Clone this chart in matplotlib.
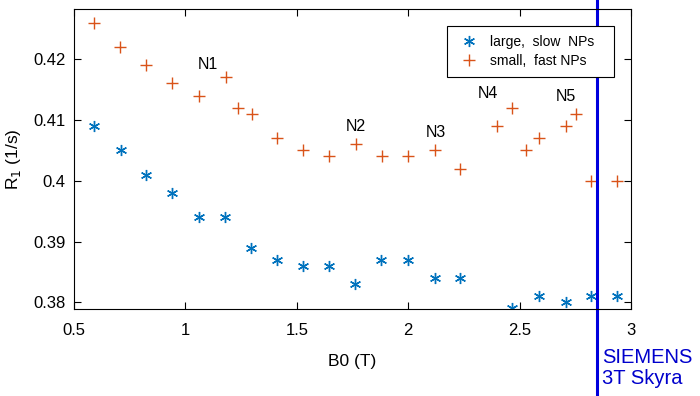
import matplotlib
matplotlib.use("Agg")
import matplotlib.pyplot as plt

plt.rcParams['font.family'] = ['Liberation Sans', 'DejaVu Sans']

# large, slow NPs (blue stars)
b0_large = [0.59, 0.71, 0.825, 0.94, 1.06, 1.18, 1.296, 1.41, 1.53, 1.646,
            1.76, 1.88, 2.0, 2.12, 2.234, 2.467, 2.587, 2.707, 2.82, 2.937]
r1_large = [0.409, 0.405, 0.401, 0.398, 0.394, 0.394, 0.389, 0.387, 0.386, 0.386,
            0.383, 0.387, 0.387, 0.384, 0.384, 0.379, 0.381, 0.380, 0.381, 0.381]

# small, fast NPs (red plus)
b0_small = [0.59, 0.708, 0.823, 0.941, 1.061, 1.181, 1.236, 1.298, 1.413, 1.529,
            1.646, 1.764, 1.882, 2.0, 2.119, 2.234, 2.399, 2.467, 2.529, 2.587,
            2.707, 2.752, 2.819, 2.937]
r1_small = [0.426, 0.422, 0.419, 0.416, 0.414, 0.417, 0.412, 0.411, 0.407, 0.405,
            0.404, 0.406, 0.404, 0.404, 0.405, 0.402, 0.409, 0.412, 0.405, 0.407,
            0.409, 0.411, 0.400, 0.400]

# annotations
note_text = ["N1", "N2", "N3", "N4", "N5"]
note_x = [1.10, 1.766, 2.125, 2.358, 2.708]
note_y = [0.4192, 0.4089, 0.408, 0.4144, 0.4139]

scanner_b0 = 2.847

fig = plt.figure(figsize=(7, 3.96), dpi=100)
ax = fig.add_axes([0.1057, 0.2197, 0.7957, 0.7568])

ax.plot(b0_large, r1_large, linestyle='none', marker=(6, 2, 0), markersize=8,
        markeredgewidth=1.0, color='#0072bd', label='large,  slow  NPs   ')
ax.plot(b0_small, r1_small, linestyle='none', marker='+', markersize=9,
        markeredgewidth=1.0, color='#d95319', label='small,  fast NPs   ')

for t, x, y in zip(note_text, note_x, note_y):
    ax.text(x, y, t, fontsize=11.5, ha='center', va='center')

ax.set_xlim(0.5, 3)
ax.set_ylim(0.3789, 0.4282)
ax.set_xticks([0.5, 1, 1.5, 2, 2.5, 3])
ax.set_xticklabels(['0.5', '1', '1.5', '2', '2.5', '3'])
ax.set_yticks([0.38, 0.39, 0.40, 0.41, 0.42])
ax.set_yticklabels(['0.38', '0.39', '0.4', '0.41', '0.42'])
ax.tick_params(direction='in', top=True, right=True, labelsize=12, length=5)
ax.tick_params(axis='x', pad=10)
ax.tick_params(axis='y', pad=6)

ax.set_xlabel('B0 (T)', fontsize=12.5)
ax.set_ylabel('R$_1$ (1/s)', fontsize=12.5)
ax.xaxis.set_label_coords(0.5, -0.15)
ax.yaxis.set_label_coords(-0.092, 0.5)

# scanner line spanning the whole figure height
ax.axvline(scanner_b0, ymin=-0.73, ymax=1.04, color='#0000dd', lw=2.2, clip_on=False)
ax.text(scanner_b0 + 0.025, 0.3692, 'SIEMENS\n3T Skyra', color='#0000cc', fontsize=14.5,
        ha='left', va='center', linespacing=1.1)

leg = ax.legend(loc='upper left', bbox_to_anchor=(0.6697, 0.943), borderaxespad=0,
                fontsize=10, fancybox=False, edgecolor='black', framealpha=1,
                handlelength=2.0, handletextpad=0.5, borderpad=0.6, labelspacing=0.4)
leg.get_frame().set_linewidth(0.8)

fig.savefig('out.png', dpi=100)
